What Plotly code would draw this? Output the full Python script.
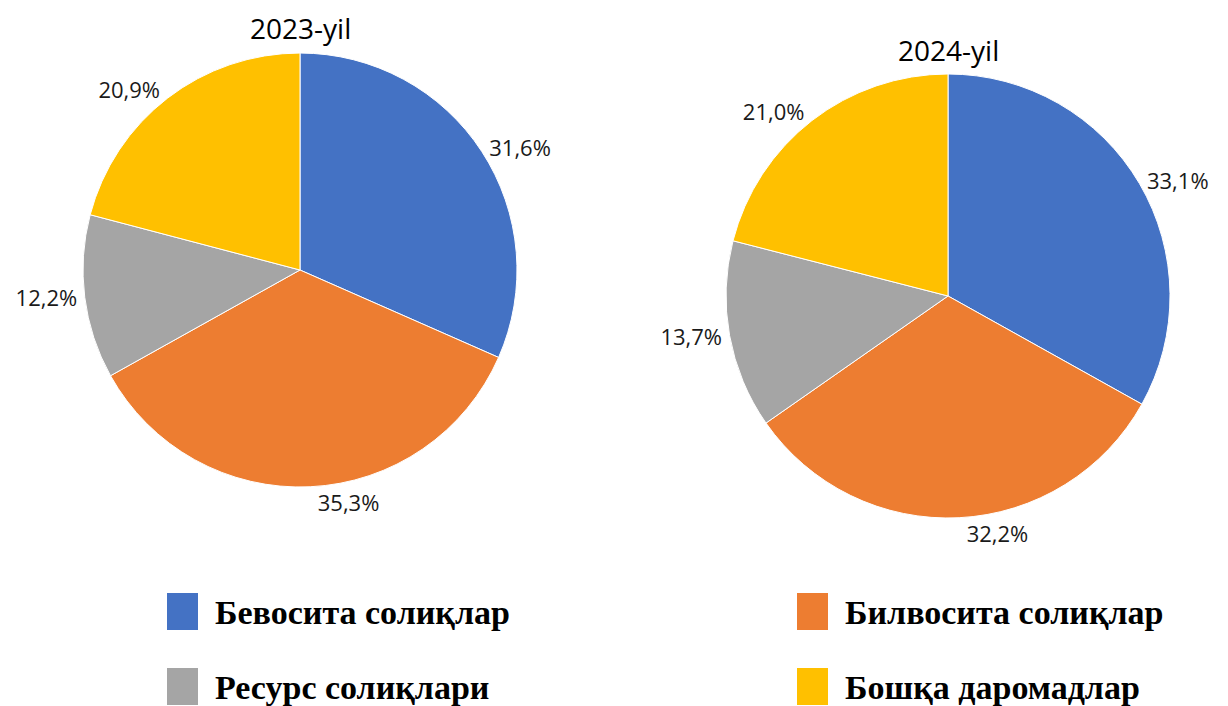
import plotly.graph_objects as go

categories = ["Бевосита солиқлар", "Билвосита солиқлар", "Ресурс солиқлари", "Бошқа даромадлар"]
colors = ["#4472C4", "#ED7D31", "#A5A5A5", "#FFC000"]
years = ["2023-yil", "2024-yil"]
values_2023 = [31.6, 35.3, 12.2, 20.9]
values_2024 = [33.1, 32.2, 13.7, 21.0]

W, H = 1228, 706

def fmt(v):
    return f"{v:.1f}".replace(".", ",") + "%"

fig = go.Figure()
domains = [dict(x=[0.0676, 0.4210], y=[0.3088, 0.9263]),
           dict(x=[0.5912, 0.9528], y=[0.2663, 0.8952])]
for vals, dom in zip([values_2023, values_2024], domains):
    fig.add_trace(go.Pie(
        labels=categories, values=vals, sort=False, direction="clockwise", rotation=0,
        marker=dict(colors=colors, line=dict(color="white", width=1)),
        text=[fmt(v) for v in vals], textinfo="text", textposition="outside",
        textfont=dict(family="Open Sans, Liberation Sans, sans-serif", size=22, color="#1a1a1a"),
        hoverinfo="label+text", showlegend=False, domain=dom,
    ))

annotations = []
title_pos = [(300, 28), (948, 50)]
for t, (x, y) in zip(years, title_pos):
    annotations.append(dict(text=t, x=x / W, y=1 - y / H, xref="paper", yref="paper",
                            showarrow=False, xanchor="center", yanchor="middle",
                            font=dict(family="Open Sans, Liberation Sans, sans-serif", size=28, color="#000")))

shapes = []
leg_pos = [(167, 593), (797, 593), (167, 668), (797, 668)]
for cat, col, (x, y) in zip(categories, colors, leg_pos):
    shapes.append(dict(type="rect", xref="paper", yref="paper",
                       x0=x / W, x1=(x + 31) / W, y0=1 - (y + 37) / H, y1=1 - y / H,
                       fillcolor=col, line=dict(width=0)))
    annotations.append(dict(text=f"<b>{cat}</b>", x=(x + 46) / W, y=1 - (y + 19) / H,
                            xref="paper", yref="paper", showarrow=False,
                            xanchor="left", yanchor="middle",
                            font=dict(family="Liberation Serif, DejaVu Serif, serif", size=34, color="#000")))

fig.update_layout(width=W, height=H, margin=dict(l=0, r=0, t=0, b=0),
                  paper_bgcolor="white", plot_bgcolor="white",
                  annotations=annotations, shapes=shapes)
fig.write_html("out.html", config={"displayModeBar": False},
               post_script="document.body.style.margin='0';document.body.style.overflow='hidden';")
